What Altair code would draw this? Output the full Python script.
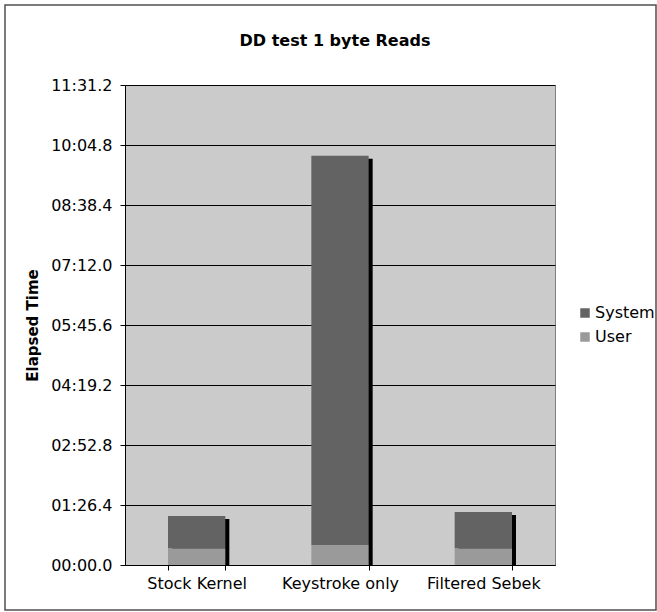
import altair as alt
import pandas as pd

# Elapsed time (seconds) per kernel configuration, split into user and system time
categories = ["Stock Kernel", "Keystroke only", "Filtered Sebek"]
user_sec = [24.0, 28.8, 24.0]
system_sec = [46.6, 560.6, 52.3]

series = ["System", "User"]
series_colors = ["#636363", "#9a9a9a"]

# y ticks every 01:26.4 (86.4 s)
tick_seconds = [0, 86.4, 172.8, 259.2, 345.6, 432.0, 518.4, 604.8, 691.2]

FONT = "DejaVu Sans"

rows = []
for cat, u, s in zip(categories, user_sec, system_sec):
    rows.append({"category": cat, "series": "User", "seconds": u, "stack": 0})
    rows.append({"category": cat, "series": "System", "seconds": s, "stack": 1})
stacked = pd.DataFrame(rows)
totals = pd.DataFrame(
    {"category": categories, "total": [u + s for u, s in zip(user_sec, system_sec)]}
)

# mm:ss.t labels
label_expr = (
    "format(floor(datum.value/60), '02d') + ':' + "
    "format(datum.value - 60*floor(datum.value/60), '04.1f')"
)

x_enc = alt.X(
    "category:N",
    sort=categories,
    scale=alt.Scale(paddingInner=0.6, paddingOuter=0.3),
    axis=alt.Axis(
        title=None,
        tickBand="extent",
        tickSize=5,
        tickColor="black",
        domainColor="black",
        labelAngle=0,
        labelFontSize=16,
        labelPadding=5,
        labelColor="black",
        grid=False,
    ),
)

y_scale = alt.Scale(domain=[0, 691.2], nice=False, zero=True)
y_axis = alt.Axis(
    title="Elapsed Time",
    values=tick_seconds,
    labelExpr=label_expr,
    grid=True,
    gridColor="black",
    gridOpacity=1,
    gridWidth=1,
    tickSize=5,
    tickColor="black",
    domainColor="black",
    labelFontSize=16,
    labelPadding=8,
    labelColor="black",
    titleFontSize=15,
    titleFontWeight="bold",
    titleColor="black",
    titlePadding=10,
)

# drop shadow to the right of each stacked bar
shadow = alt.Chart(totals).mark_bar(
    color="black", xOffset=4, yOffset=3, clip=True
).encode(
    x=x_enc,
    y=alt.Y("total:Q", scale=y_scale, axis=y_axis),
)

bars = alt.Chart(stacked).mark_bar().encode(
    x=x_enc,
    y=alt.Y("seconds:Q", stack="zero", scale=y_scale, axis=y_axis),
    color=alt.Color(
        "series:N",
        scale=alt.Scale(domain=series, range=series_colors),
        legend=alt.Legend(
            title=None,
            orient="none",
            legendX=452,
            legendY=220,
            padding=0,
            symbolType="square",
            symbolSize=90,
            symbolStrokeWidth=0,
            symbolOpacity=1,
            labelFontSize=16,
            labelColor="black",
            labelOffset=2,
            rowPadding=8,
        ),
    ),
    order=alt.Order("stack:Q"),
)

# outer chart frame
frame = alt.Chart(alt.Data(values=[{"k": 1}])).mark_rect(
    fill="white", fillOpacity=0, stroke="#505050", strokeWidth=1.5
).encode(
    x=alt.value(-120), x2=alt.value(531), y=alt.value(-80), y2=alt.value(525)
)

chart = (
    alt.layer(shadow, bars, frame)
    .properties(
        width=430,
        height=480,
        title=alt.TitleParams(
            "DD test 1 byte Reads",
            font=FONT,
            fontSize=16,
            fontWeight="bold",
            anchor="middle",
            baseline="alphabetic",
            offset=0,
            dx=-5,
            dy=58,
            color="black",
        ),
        padding={"left": 125, "top": 85, "right": 102, "bottom": 47},
        autosize=alt.AutoSizeParams(type="none"),
        background="white",
    )
    .configure_view(stroke="#808080", fill="#cbcbcb")
    .configure_axis(labelFont=FONT, titleFont=FONT)
    .configure_legend(labelFont=FONT)
)

chart.save("out.html", embed_options={"renderer": "svg", "actions": False})
